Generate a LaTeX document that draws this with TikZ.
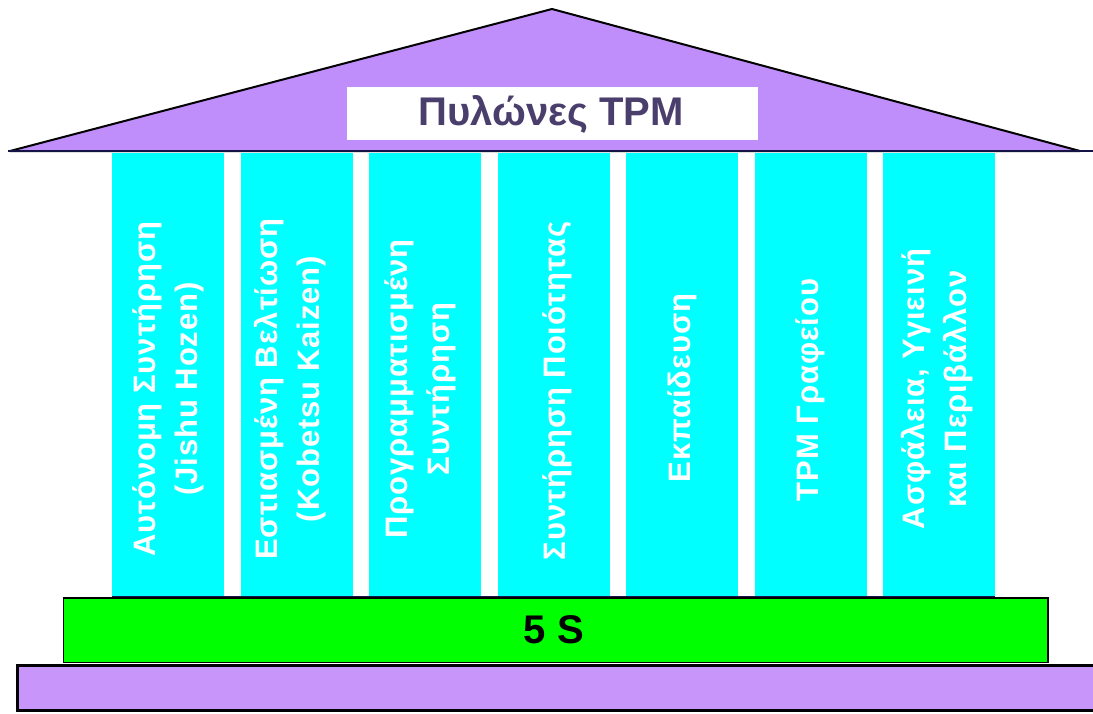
\documentclass[tikz,border=0pt]{standalone}
\usepackage{fontspec}
\setmainfont{Liberation Sans}
\newfontfamily\pillarfont[LetterSpace=3]{Liberation Sans}
\definecolor{roofpurple}{RGB}{192,142,250}
\definecolor{basepurple}{RGB}{200,150,250}
\definecolor{pillarcyan}{RGB}{0,255,255}
\definecolor{stepgreen}{RGB}{0,255,0}
\definecolor{titleink}{RGB}{74,62,108}
\definecolor{navyline}{RGB}{20,20,70}
\tikzset{
  roof/.style={fill=roofpurple, draw=black, line width=2pt, line join=round},
  pillar/.style={fill=pillarcyan},
  pillartext/.style={rotate=90, text=white, align=center,
    font=\pillarfont\bfseries\fontsize{31}{42}\selectfont},
  titlebox/.style={fill=white},
  titletext/.style={text=titleink, font=\bfseries\fontsize{40}{44}\selectfont},
  greenstep/.style={fill=stepgreen, draw=black, line width=1.2pt},
  basestep/.style={fill=basepurple, draw=black, line width=3pt},
  steptext/.style={text=black, font=\bfseries\fontsize{40}{44}\selectfont}
}
\begin{document}
\begin{tikzpicture}[x=1pt, y=-1pt]
  \clip (0,0) rectangle (1093,713);
  \fill[white] (0,0) rectangle (1093,713);

  % roof (pediment) with the title plate
  \filldraw[roof] (10,151) -- (552,9) -- (1080,151) -- cycle;
  \draw[navyline, line width=2.2pt] (8,151) -- (1095,151);
  \fill[titlebox] (347,87) rectangle (758,140);
  \node[titletext] (title) at (551,114) {Πυλώνες TPM};

  % pillars
  \foreach \xl in {112, 240.5, 369, 497.5, 626, 754.5, 883}
    \fill[pillar] (\xl,152.5) rectangle ++(112,443.5);

  \node[pillartext] (t1) at (168,389)   {Αυτόνομη Συντήρηση\\(Jishu Hozen)};
  \node[pillartext] (t2) at (290,389)   {Εστιασμένη Βελτίωση\\(Kobetsu Kaizen)};
  \node[pillartext] (t3) at (420,389)   {Προγραμματισμένη\\Συντήρηση};
  \node[pillartext] (t4) at (557,391)   {Συντήρηση Ποιότητας};
  \node[pillartext] (t5) at (682,388)   {Εκπαίδευση};
  \node[pillartext] (t6) at (810.5,390) {TPM Γραφείου};
  \node[pillartext] (t7) at (937,389)   {Ασφάλεια, Υγιεινή\\και Περιβάλλον};

  % 5S step
  \draw[navyline, line width=1.5pt] (112,597) -- (995,597);
  \filldraw[greenstep] (63.5,598) rectangle (1048,662.5);
  \node[steptext] (fives) at (554,630) {5 S};

  % base step
  \filldraw[basestep] (17.5,665.5) rectangle (1100,710);
\end{tikzpicture}
\end{document}
